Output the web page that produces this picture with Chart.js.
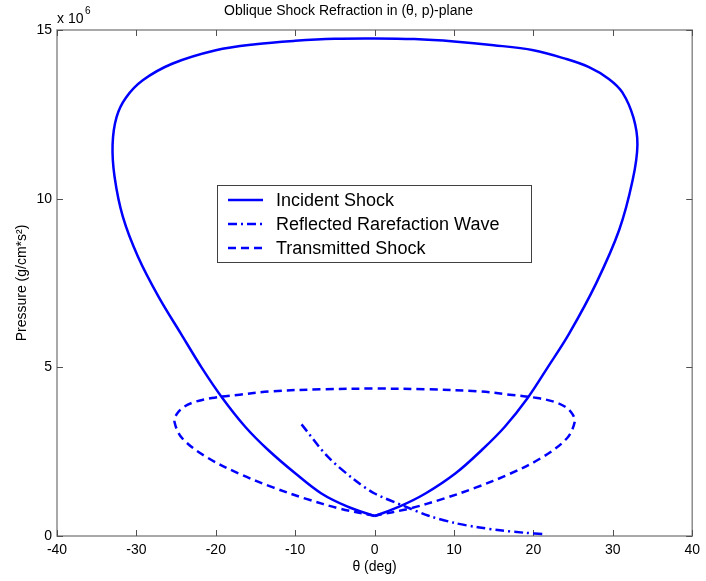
<!DOCTYPE html>
<html>
<head>
<meta charset="utf-8">
<script src="https://cdn.jsdelivr.net/npm/chart.js@4.4.0/dist/chart.umd.min.js"></script>
<style>
  html, body { margin: 0; padding: 0; background: #fff; }
  #wrap { width: 706px; height: 581px; }
</style>
</head>
<body>
<div id="wrap"><canvas id="polarChart"></canvas></div>
<script>
// pressure values are in units of 10^6 g/cm*s^2, theta in degrees
const seriesLabels = ['Incident Shock', 'Reflected Rarefaction Wave', 'Transmitted Shock'];

const incidentTheta = [0, -3.4, -6.7, -10, -13.4, -16.3, -19.2, -21.8, -24.4, -27.2, -29.8, -31.7, -32.75, -33.0,
  -32.5, -31.3, -29.2, -25.5, -20, -15, -10, -5, 0, 5, 10, 15, 20, 24, 27, 29.5, 31.2, 32.6, 33.1,
  32.5, 30.8, 27.9, 24.5, 21.8, 19.3, 16.4, 13.5, 10.2, 6.4, 3.1, 0];
const incidentP = [0.59, 0.87, 1.26, 1.86, 2.55, 3.24, 4.1, 5.0, 6.0, 7.09, 8.28, 9.46, 10.65, 11.6,
  12.42, 13.0, 13.51, 14.0, 14.4, 14.58, 14.68, 14.74, 14.75, 14.73, 14.66, 14.55, 14.4, 14.15, 13.9, 13.55, 13.15, 12.4, 11.6,
  10.55, 9.07, 7.49, 6.0, 5.0, 4.1, 3.24, 2.55, 1.86, 1.26, 0.87, 0.59];

const reflectedTheta = [-9.2, -5.9, -2.5, 0, 3.9, 6.8, 10.2, 13, 15.8, 18.7, 21.6];
const reflectedP = [3.31, 2.35, 1.66, 1.26, 0.87, 0.6, 0.38, 0.26, 0.17, 0.1, 0.05];

const transmittedTheta = [0, -4.5, -8.6, -12.8, -17, -21.1, -24.2, -25.2, -24.9, -24.0, -22.6, -20.5, -17, -13, -6.5, 0,
  6.5, 13, 17, 20.5, 22.6, 24.0, 24.9, 25.2, 24.2, 21.1, 17, 12.8, 8.6, 4.5, 0];
const transmittedP = [0.6, 0.82, 1.1, 1.44, 1.84, 2.33, 2.89, 3.38, 3.62, 3.83, 3.98, 4.09, 4.19, 4.29, 4.35, 4.37,
  4.35, 4.29, 4.19, 4.09, 3.98, 3.83, 3.62, 3.38, 2.89, 2.33, 1.84, 1.44, 1.1, 0.82, 0.6];

const xTicks = [-40, -30, -20, -10, 0, 10, 20, 30, 40];
const yTicks = [0, 5, 10, 15];

const blue = '#0000ff';
const fontFamily = '"Liberation Sans", Arial, Helvetica, sans-serif';

function toPoints(xs, ys) {
  return xs.map((v, i) => ({ x: v, y: ys[i] }));
}

// box around the axes with inward ticks, plus the "x 10^6" exponent label
const framePlugin = {
  id: 'frame',
  beforeDatasetsDraw(chart) {
    const { ctx, chartArea: a, scales: { x, y } } = chart;
    ctx.save();
    ctx.strokeStyle = '#8c8c8c';
    ctx.lineWidth = 1.5;
    ctx.strokeRect(a.left, a.top, a.right - a.left, a.bottom - a.top);

    ctx.strokeStyle = '#505050';
    ctx.lineWidth = 1;
    ctx.beginPath();
    xTicks.forEach(v => {
      const px = Math.round(x.getPixelForValue(v)) + 0.5;
      ctx.moveTo(px, a.bottom); ctx.lineTo(px, a.bottom - 6);
      ctx.moveTo(px, a.top); ctx.lineTo(px, a.top + 6);
    });
    yTicks.forEach(v => {
      const py = Math.round(y.getPixelForValue(v)) + 0.5;
      ctx.moveTo(a.left, py); ctx.lineTo(a.left + 6, py);
      ctx.moveTo(a.right, py); ctx.lineTo(a.right - 6, py);
    });
    ctx.stroke();

    ctx.fillStyle = '#000';
    ctx.textAlign = 'left';
    ctx.textBaseline = 'alphabetic';
    ctx.font = '14px ' + fontFamily;
    ctx.fillText('x 10', a.left, a.top - 7);
    ctx.font = '10px ' + fontFamily;
    ctx.fillText('6', a.left + 28, a.top - 16);
    ctx.restore();
  }
};

// MATLAB-style legend box sitting inside the plot
const legendPlugin = {
  id: 'boxLegend',
  afterDraw(chart) {
    const { ctx } = chart;
    const bx = 217, by = 185, bw = 314, bh = 77;
    ctx.save();
    ctx.fillStyle = '#fff';
    ctx.fillRect(bx, by, bw, bh);
    ctx.strokeStyle = '#404040';
    ctx.lineWidth = 1;
    ctx.strokeRect(bx + 0.5, by + 0.5, bw, bh);
    chart.data.datasets.forEach((ds, i) => {
      const rowY = by + 15 + i * 24;
      ctx.strokeStyle = ds.borderColor;
      ctx.lineWidth = ds.borderWidth;
      ctx.setLineDash(ds.borderDash || []);
      ctx.beginPath();
      ctx.moveTo(bx + 11, rowY);
      ctx.lineTo(bx + 46, rowY);
      ctx.stroke();
      ctx.setLineDash([]);
      ctx.fillStyle = '#000';
      ctx.font = '18px ' + fontFamily;
      ctx.textAlign = 'left';
      ctx.textBaseline = 'middle';
      ctx.fillText(ds.label, bx + 59, rowY + 1);
    });
    ctx.restore();
  }
};

const ctx = document.getElementById('polarChart').getContext('2d');

const polarChart = new Chart(ctx, {
  type: 'scatter',
  data: {
    datasets: [
      {
        label: seriesLabels[0],
        data: toPoints(incidentTheta, incidentP),
        borderColor: blue,
        borderWidth: 2.5,
        showLine: true,
        tension: 0.35,
        pointRadius: 0
      },
      {
        label: seriesLabels[1],
        data: toPoints(reflectedTheta, reflectedP),
        borderColor: blue,
        borderWidth: 2.5,
        borderDash: [9, 4, 2, 4],
        showLine: true,
        tension: 0.3,
        pointRadius: 0
      },
      {
        label: seriesLabels[2],
        data: toPoints(transmittedTheta, transmittedP),
        borderColor: blue,
        borderWidth: 2.5,
        borderDash: [8, 5],
        showLine: true,
        tension: 0.35,
        pointRadius: 0
      }
    ]
  },
  options: {
    responsive: true,
    maintainAspectRatio: false,
    animation: false,
    layout: { padding: { left: 0, right: 9, top: 0, bottom: 0 } },
    plugins: {
      legend: { display: false },
      tooltip: { enabled: false },
      title: {
        display: true,
        text: 'Oblique Shock Refraction in (\u03b8, p)-plane',
        color: '#000',
        font: { family: fontFamily, size: 14, weight: 'normal' },
        padding: { top: 3, bottom: 10.2 }
      }
    },
    scales: {
      x: {
        type: 'linear',
        min: -40,
        max: 40,
        grid: { display: false, drawTicks: false },
        border: { display: false },
        afterBuildTicks: scale => { scale.ticks = xTicks.map(v => ({ value: v })); },
        afterFit: scale => { scale.height = 45; },
        ticks: {
          color: '#000',
          padding: 6,
          maxRotation: 0,
          font: { family: fontFamily, size: 14 }
        },
        title: {
          display: true,
          text: '\u03b8 (deg)',
          color: '#000',
          font: { family: fontFamily, size: 14 },
          padding: { top: 0, bottom: 5 }
        }
      },
      y: {
        type: 'linear',
        min: 0,
        max: 15,
        grid: { display: false, drawTicks: false },
        border: { display: false },
        afterBuildTicks: scale => { scale.ticks = yTicks.map(v => ({ value: v })); },
        afterFit: scale => { scale.width = 57; },
        ticks: {
          color: '#000',
          padding: 5,
          font: { family: fontFamily, size: 14 }
        },
        title: {
          display: true,
          text: 'Pressure (g/cm*s\u00b2)',
          color: '#000',
          font: { family: fontFamily, size: 14 },
          padding: { top: 14, bottom: 0 }
        }
      }
    }
  },
  plugins: [framePlugin, legendPlugin]
});
</script>
</body>
</html>
